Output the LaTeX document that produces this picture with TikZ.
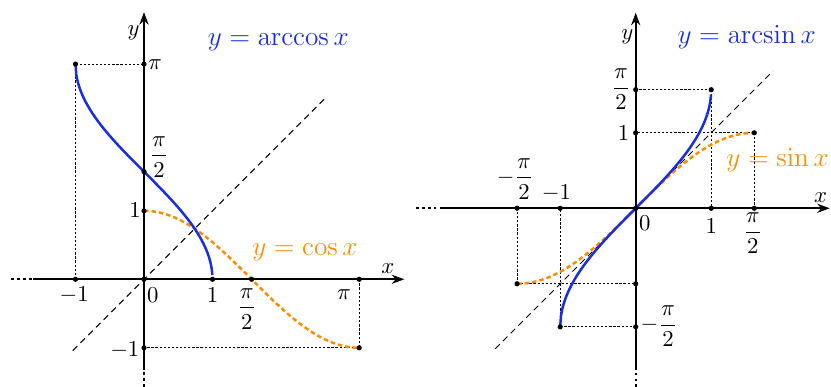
\documentclass[tikz,border=0pt]{standalone}
\usepackage{amsmath}
\usetikzlibrary{arrows.meta}
\definecolor{curveblue}{RGB}{25,45,230}
\definecolor{curveorange}{RGB}{255,140,0}
\tikzset{
  axisline/.style={line width=0.8pt},
  axisarrow/.style={line width=0.8pt,-{Stealth[length=5.5pt,width=4pt]}},
  axisdots/.style={line width=0.8pt, dash pattern=on 1.2pt off 1.4pt},
  guide/.style={line width=0.35pt, dash pattern=on 1pt off 0.8pt},
  diag/.style={line width=0.45pt, dash pattern=on 2.8pt off 2pt},
  bluecurve/.style={curveblue, line width=1.1pt},
  orangecurve/.style={curveorange, line width=1.1pt, dash pattern=on 2pt off 1.3pt},
  lbl/.style={inner sep=0pt},
  titlelbl/.style={inner sep=0pt, font=\large},
}
\newcommand{\dotat}[1]{\fill (#1) circle[radius=1.15pt];}
\begin{document}
\begin{tikzpicture}[x=0.44pt,y=0.44pt]
\useasboundingbox (0,0) rectangle (831,387);
% ---------------- left: arccos ----------------
\begin{scope}[shift={(63.36pt,47.39pt)}, x=30.14pt, y=30.14pt]
  \coordinate (LO) at (0,0);
  \coordinate (LxA) at (-1.94,0);
  \coordinate (LxB) at (-1.62,0);
  \coordinate (LxE) at (3.80,0);
  \coordinate (LyE) at (0,3.90);
  \coordinate (LyB) at (0,-1.32);
  \coordinate (LyA) at (0,-1.57);
  \coordinate (LmP) at (-1,3.1416);
  \coordinate (L0P) at (0,3.1416);
  \coordinate (L0H) at (0,1.5708);
  \coordinate (L01) at (0,1);
  \coordinate (L0m) at (0,-1);
  \coordinate (Lm0) at (-1,0);
  \coordinate (L10) at (1,0);
  \coordinate (LH0) at (1.5708,0);
  \coordinate (LP0) at (3.1416,0);
  \coordinate (LPm) at (3.1416,-1);
  \coordinate (LdA) at (-1.04,-1.04);
  \coordinate (LdB) at (2.65,2.65);
  % guides
  \draw[guide] (LmP) -- (L0P);
  \draw[guide] (LmP) -- (Lm0);
  \draw[guide] (LP0) -- (LPm) -- (L0m);
  % diagonal
  \draw[diag] (LdA) -- (LdB);
  % curves
  \draw[orangecurve] plot[domain=0:3.1416, samples=80] (\x,{cos(\x r)});
  \draw[bluecurve] plot[domain=-1:1, samples=200] (\x,{acos(\x)*pi/180});
  % axes
  \draw[axisdots] (LxA) -- (LxB);
  \draw[axisarrow] (LxB) -- (LxE);
  \draw[axisdots] (LyA) -- (LyB);
  \draw[axisarrow] (LyB) -- (LyE);
  % dots
  \foreach \p in {LO,LmP,L0P,L0H,L01,L0m,Lm0,L10,LH0,LP0,LPm} {\dotat{\p}}
  % labels
  \node[lbl] (Lly) at (-0.15,3.60) {$y$};
  \node[lbl] (Llx) at (3.56,0.15) {$x$};
  \node[titlelbl, text=curveblue] (Ltitle) at (1.96,3.46) {$y=\arccos x$};
  \node[titlelbl, text=curveorange] (Lcos) at (2.35,0.40) {$y=\cos x$};
  \node[lbl] (LtP) at (0.16,3.14) {$\pi$};
  \node[lbl] (LtH) at (0.22,1.79) {$\dfrac{\pi}{2}$};
  \node[lbl] (Lt1) at (-0.13,1.01) {$1$};
  \node[lbl] (Ltm1) at (-0.28,-1.03) {$-1$};
  \node[lbl] (Lt0) at (0.13,-0.23) {$0$};
  \node[lbl] (Lxm1) at (-1.02,-0.23) {$-1$};
  \node[lbl] (Lx1) at (1.0,-0.23) {$1$};
  \node[lbl] (LxH) at (1.50,-0.43) {$\dfrac{\pi}{2}$};
  \node[lbl] (LxP) at (2.92,-0.23) {$\pi$};
\end{scope}
% ---------------- right: arcsin ----------------
\begin{scope}[shift={(279.71pt,78.63pt)}, x=33.22pt, y=33.22pt]
  \coordinate (RO) at (0,0);
  \coordinate (RxA) at (-2.91,0);
  \coordinate (RxB) at (-2.59,0);
  \coordinate (RxE) at (2.57,0);
  \coordinate (RyE) at (0,2.59);
  \coordinate (RyB) at (0,-2.14);
  \coordinate (RyA) at (0,-2.37);
  \coordinate (R1H) at (1,1.5708);
  \coordinate (R0H) at (0,1.5708);
  \coordinate (R10) at (1,0);
  \coordinate (RH1) at (1.5708,1);
  \coordinate (R01) at (0,1);
  \coordinate (RH0) at (1.5708,0);
  \coordinate (RmHm) at (-1.5708,-1);
  \coordinate (R0m) at (0,-1);
  \coordinate (RmH0) at (-1.5708,0);
  \coordinate (RmmH) at (-1,-1.5708);
  \coordinate (R0mH) at (0,-1.5708);
  \coordinate (Rm0) at (-1,0);
  \coordinate (RdA) at (-1.86,-1.86);
  \coordinate (RdB) at (1.82,1.82);
  % guides
  \draw[guide] (R1H) -- (R0H);
  \draw[guide] (R1H) -- (R10);
  \draw[guide] (RH1) -- (R01);
  \draw[guide] (RH1) -- (RH0);
  \draw[guide] (RmHm) -- (R0m);
  \draw[guide] (RmHm) -- (RmH0);
  \draw[guide] (RmmH) -- (R0mH);
  \draw[guide] (RmmH) -- (Rm0);
  % diagonal
  \draw[diag] (RdA) -- (RdB);
  % curves
  \draw[orangecurve] plot[domain=-1.5708:1.5708, samples=80] (\x,{sin(\x r)});
  \draw[bluecurve] plot[domain=-1:1, samples=200] (\x,{asin(\x)*pi/180});
  % axes
  \draw[axisdots] (RxA) -- (RxB);
  \draw[axisarrow] (RxB) -- (RxE);
  \draw[axisdots] (RyA) -- (RyB);
  \draw[axisarrow] (RyB) -- (RyE);
  % dots
  \foreach \p in {RO,R1H,R0H,R10,RH1,R01,RH0,RmHm,R0m,RmH0,RmmH,R0mH,Rm0} {\dotat{\p}}
  % labels
  \node[lbl] (Rly) at (-0.11,2.27) {$y$};
  \node[lbl] (Rlx) at (2.45,0.14) {$x$};
  \node[titlelbl, text=curveblue] (Rtitle) at (1.47,2.27) {$y=\arcsin x$};
  \node[titlelbl, text=curveorange] (Rsin) at (1.88,0.64) {$y=\sin x$};
  \node[lbl] (RtH) at (-0.195,1.58) {$\dfrac{\pi}{2}$};
  \node[lbl] (Rt1) at (-0.16,0.99) {$1$};
  \node[lbl] (RxmH) at (-1.595,0.39) {$-\dfrac{\pi}{2}$};
  \node[lbl] (Rxm1) at (-1.05,0.20) {$-1$};
  \node[lbl] (Rt0) at (0.12,-0.20) {$0$};
  \node[lbl] (Rx1) at (1.0,-0.24) {$1$};
  \node[lbl] (RxH) at (1.55,-0.33) {$\dfrac{\pi}{2}$};
  \node[lbl] (RtmH) at (0.31,-1.56) {$-\dfrac{\pi}{2}$};
\end{scope}
\end{tikzpicture}
\end{document}
